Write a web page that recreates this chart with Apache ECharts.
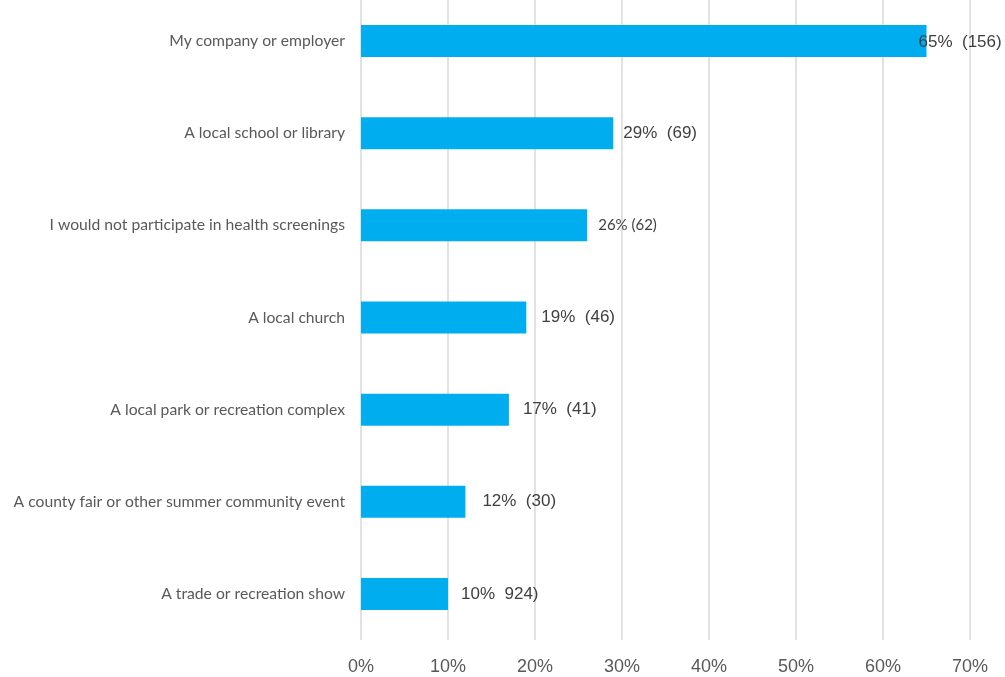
<!DOCTYPE html>
<html>
<head>
<meta charset="utf-8">
<script src="https://cdn.jsdelivr.net/npm/echarts@6/dist/echarts.min.js"></script>
<style>
  html, body { margin: 0; padding: 0; background: #fff; overflow: hidden; }
  /* the plot starts slightly above the page so the top band is clipped */
  #chart { width: 1005px; height: 682px; margin-top: -5px; }
</style>
</head>
<body>
<div id="chart"></div>
<script>
// Where respondents would go for a health screening
const categories = [
  'My company or employer',
  'A local school or library',
  'I would not participate in health screenings',
  'A local church',
  'A local park or recreation complex',
  'A county fair or other summer community event',
  'A trade or recreation show'
];
const percentValues = [65, 29, 26, 19, 17, 12, 10];
const valueLabels = [
  '65%  (156)',
  '29%  (69)',
  '26% (62)',
  '19%  (46)',
  '17%  (41)',
  '12%  (30)',
  '10%  924)'
];
const xTicks = [0, 10, 20, 30, 40, 50, 60, 70];

const chart = echarts.init(document.getElementById('chart'));

// label gaps after each bar end
const labelGaps = [0, 10, 11, 15, 14, 17, 13];

const seriesData = percentValues.map((v, i) => {
  const item = { value: v, label: { distance: labelGaps[i] } };
  if (i === 0) {
    // the longest bar's label overlaps its own end
    item.label.offset = [-8, 1];
  }
  if (i === 2) {
    item.label.fontFamily = 'Lato, "Noto Sans", sans-serif';
    item.label.fontSize = 15;
  }
  return item;
});

chart.setOption({
  animation: false,
  backgroundColor: '#ffffff',
  grid: { left: 361, right: 35, top: 0, bottom: 37, containLabel: false },
  xAxis: {
    type: 'value',
    min: xTicks[0],
    max: xTicks[xTicks.length - 1],
    interval: 10,
    axisLine: { show: false },
    axisTick: { show: false },
    splitLine: { show: true, lineStyle: { color: '#d9d9d9', width: 1.5 } },
    axisLabel: {
      margin: 18,
      fontFamily: '"Liberation Sans", Arial, sans-serif',
      fontSize: 18,
      color: '#595959',
      formatter: v => v + '%'
    }
  },
  yAxis: {
    type: 'category',
    inverse: true,
    data: categories,
    axisLine: { show: false },
    axisTick: { show: false },
    splitLine: { show: false },
    axisLabel: {
      margin: 16,
      fontFamily: 'Lato, "Noto Sans", sans-serif',
      fontSize: 15.7,
      color: '#595959',
      padding: [3, 0, 0, 0]
    }
  },
  series: [{
    type: 'bar',
    data: seriesData,
    barWidth: 32,
    itemStyle: { color: '#00aeef' },
    label: {
      show: true,
      position: 'right',
      fontFamily: '"Liberation Sans", Arial, sans-serif',
      fontSize: 17,
      color: '#404040',
      padding: [2, 0, 0, 0],
      formatter: p => valueLabels[p.dataIndex]
    }
  }]
});
</script>
</body>
</html>
